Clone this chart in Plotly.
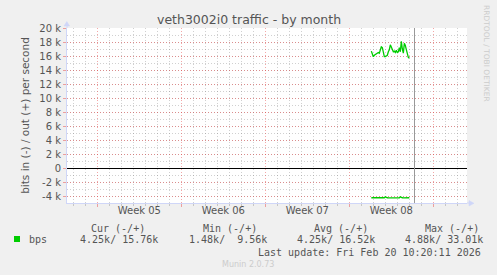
import plotly.graph_objects as go
from datetime import datetime, timedelta

# ---------------- data ----------------
title_text = "veth3002i0 traffic - by month"
y_title = "bits in (-) / out (+) per second"
series_name = "bps"
series_color = "#00cc00"

series_start = "2026-02-16 20:00"
step_hours = 2
out_k = [16.7, 16.3, 15.9, 16.1, 16.2, 16.3, 16.3, 16.5, 16.4, 17.0,
         17.3, 17.2, 16.4, 15.9, 15.9, 16.0, 16.1, 16.6, 16.9, 17.6,
         17.3, 16.9, 16.6, 16.7, 16.5, 16.8, 16.5, 16.6, 17.2, 16.6,
         18.1, 17.0, 16.4, 17.8, 17.5, 16.9, 16.2, 15.8, 15.7]
in_k = [4.25, 4.25, 4.26, 4.25, 4.25, 4.24, 4.25, 4.26, 4.25, 4.25,
        4.25, 4.25, 4.26, 4.25, 4.12, 4.25, 4.25, 4.26, 4.25, 4.25,
        4.24, 4.25, 4.25, 4.26, 4.25, 4.25, 4.25, 4.25, 4.25, 4.12,
        4.25, 4.25, 4.26, 4.25, 4.25, 4.24, 4.25, 4.25, 4.25]

x_range = ["2026-01-22 11:20", "2026-02-24 19:20"]
week_grid_start = "2026-01-25"
week_label_dates = ["2026-01-28 12:00", "2026-02-04 12:00",
                    "2026-02-11 12:00", "2026-02-18 12:00"]
week_labels = ["Week 05", "Week 06", "Week 07", "Week 08"]
last_update_time = "2026-02-20 10:20:11"

y_range = [-5000, 20000]
y_tick_vals = [-4000, -2000, 0, 2000, 4000, 6000, 8000, 10000,
               12000, 14000, 16000, 18000, 20000]
y_tick_text = ["-4 k", "-2 k", "0", "2 k", "4 k", "6 k", "8 k", "10 k",
               "12 k", "14 k", "16 k", "18 k", "20 k"]

legend_headers = ["Cur (-/+)", "Min (-/+)", "Avg (-/+)", "Max (-/+)"]
legend_values = ["  4.25k/ 15.76k", "  1.48k/  9.56k",
                 "  4.25k/ 16.52k", "  4.88k/ 33.01k"]
last_update_text = "Last update: Fri Feb 20 10:20:11 2026"
footer_text = "Munin 2.0.73"
side_text = "RRDTOOL / TOBI OETIKER"

# ---------------- build ----------------
t0 = datetime.strptime(series_start, "%Y-%m-%d %H:%M")
times = [t0 + timedelta(hours=step_hours * i) for i in range(len(out_k))]
out_vals = [v * 1000 for v in out_k]
in_vals = [-v * 1000 for v in in_k]

W, H = 497, 275
L, R, T, B = 67, 30, 28, 72
PW, PH = W - L - R, H - T - B


def px(x):
    return (x - L) / PW


def py(y):
    return (H - B - y) / PH


FONT = "DejaVu Sans"
MONO = "DejaVu Sans Mono"
TXT = "#555555"
AXIS = "#CFD6F8"
MGRID = "rgba(230,60,60,0.45)"
GRID = "rgba(120,120,120,0.35)"

fig = go.Figure()
fig.add_trace(go.Scatter(x=times, y=out_vals, mode="lines",
                         line=dict(color=series_color, width=1.3),
                         showlegend=False, hoverinfo="skip"))
fig.add_trace(go.Scatter(x=times, y=in_vals, mode="lines",
                         line=dict(color=series_color, width=1.3),
                         showlegend=False, hoverinfo="skip"))
fig.add_trace(go.Scatter(x=[], y=[], xaxis="x2", showlegend=False))

fig.update_layout(
    width=W, height=H,
    margin=dict(l=L, r=R, t=T, b=B, pad=0),
    paper_bgcolor="#f0f0f0", plot_bgcolor="#ffffff",
    font=dict(family=FONT, size=10, color=TXT),
    xaxis=dict(
        type="date", range=x_range, tickmode="linear",
        tick0=week_grid_start, dtick=7 * 86400000,
        showticklabels=False, showgrid=True, gridcolor=MGRID,
        griddash="1px,2px", gridwidth=1,
        ticks="outside", ticklen=3, tickcolor=MGRID,
        minor=dict(tickmode="linear", tick0=week_grid_start, dtick=86400000,
                   showgrid=True, gridcolor=GRID, griddash="1px,2px",
                   ticks="outside", ticklen=2, tickcolor=GRID),
        showline=True, linecolor=AXIS, linewidth=1,
        zeroline=False, fixedrange=True,
    ),
    xaxis2=dict(
        type="date", range=x_range, overlaying="x", anchor="y", side="bottom",
        tickmode="array", tickvals=week_label_dates, ticktext=week_labels,
        showgrid=False, ticks="", showline=False, zeroline=False,
        tickfont=dict(family=FONT, size=10, color=TXT),
    ),
    yaxis=dict(
        range=y_range, tickmode="array", tickvals=y_tick_vals,
        ticktext=y_tick_text, showgrid=True, gridcolor=MGRID,
        griddash="1px,2px", gridwidth=1,
        ticks="outside", ticklen=3, tickcolor=MGRID,
        minor=dict(tickmode="linear", tick0=0, dtick=1000, showgrid=True,
                   gridcolor=GRID, griddash="1px,2px"),
        zeroline=True, zerolinecolor="#000000", zerolinewidth=1.2,
        showline=True, linecolor=AXIS, linewidth=1,
        tickfont=dict(family=FONT, size=10, color=TXT),
        title=dict(text=y_title, font=dict(family=FONT, size=10.5, color=TXT),
                   standoff=7),
        fixedrange=True,
    ),
)

shapes = []
# now / last-update line
shapes.append(dict(type="line", xref="x", yref="paper",
                   x0=last_update_time, x1=last_update_time, y0=0, y1=1,
                   line=dict(color="#999999", width=1)))
# arrows
shapes.append(dict(type="path", xref="paper", yref="paper",
                   path=f"M {px(469)} {py(200.5)} L {px(474)} {py(203.3)} L {px(469)} {py(206)} Z",
                   fillcolor=AXIS, line=dict(color=AXIS, width=0.5)))
shapes.append(dict(type="line", xref="paper", yref="paper",
                   x0=1, x1=px(469), y0=0, y1=0,
                   line=dict(color=AXIS, width=1)))
shapes.append(dict(type="path", xref="paper", yref="paper",
                   path=f"M {px(64)} {py(26)} L {px(66.8)} {py(21.5)} L {px(69.6)} {py(26)} Z",
                   fillcolor=AXIS, line=dict(color=AXIS, width=0.5)))
shapes.append(dict(type="line", xref="paper", yref="paper",
                   x0=0, x1=0, y0=1, y1=py(26),
                   line=dict(color=AXIS, width=1)))
# legend swatch
shapes.append(dict(type="rect", xref="paper", yref="paper",
                   x0=px(14), x1=px(20), y0=py(242), y1=py(236),
                   fillcolor=series_color, line=dict(width=0)))
fig.update_layout(shapes=shapes)

ann = []
ann.append(dict(text=title_text, x=px(248.5), y=py(19), xref="paper", yref="paper",
                xanchor="center", yanchor="middle", showarrow=False,
                font=dict(family=FONT, size=12.5, color=TXT)))
ann.append(dict(text=side_text, x=px(487), y=py(53), xref="paper", yref="paper",
                xanchor="center", yanchor="middle", showarrow=False, textangle=90,
                font=dict(family=FONT, size=7.5, color="#cccccc")))
head_x = [89, 201, 312.3, 423]
val_x = [66, 174.5, 282.8, 391]
for hx, h in zip(head_x, legend_headers):
    ann.append(dict(text=h.replace(" ", "&nbsp;"), x=px(hx), y=py(228), xref="paper",
                    yref="paper", xanchor="left", yanchor="middle", showarrow=False,
                    font=dict(family=MONO, size=10, color=TXT)))
for vx, v in zip(val_x, legend_values):
    ann.append(dict(text=v.replace(" ", "&nbsp;"), x=px(vx), y=py(239.5), xref="paper",
                    yref="paper", xanchor="left", yanchor="middle", showarrow=False,
                    font=dict(family=MONO, size=10, color=TXT)))
ann.append(dict(text=series_name, x=px(26.5), y=py(239.5), xref="paper", yref="paper",
                xanchor="left", yanchor="middle", showarrow=False,
                font=dict(family=MONO, size=10, color=TXT)))
ann.append(dict(text=last_update_text.replace(" ", "&nbsp;"), x=px(482.5), y=py(252),
                xref="paper", yref="paper", xanchor="right", yanchor="middle",
                showarrow=False, font=dict(family=MONO, size=10, color=TXT)))
ann.append(dict(text=footer_text, x=px(248), y=py(264.5), xref="paper", yref="paper",
                xanchor="center", yanchor="middle", showarrow=False,
                font=dict(family=FONT, size=8, color="#cccccc")))
fig.update_layout(annotations=ann)

fig.write_html("out.html")
